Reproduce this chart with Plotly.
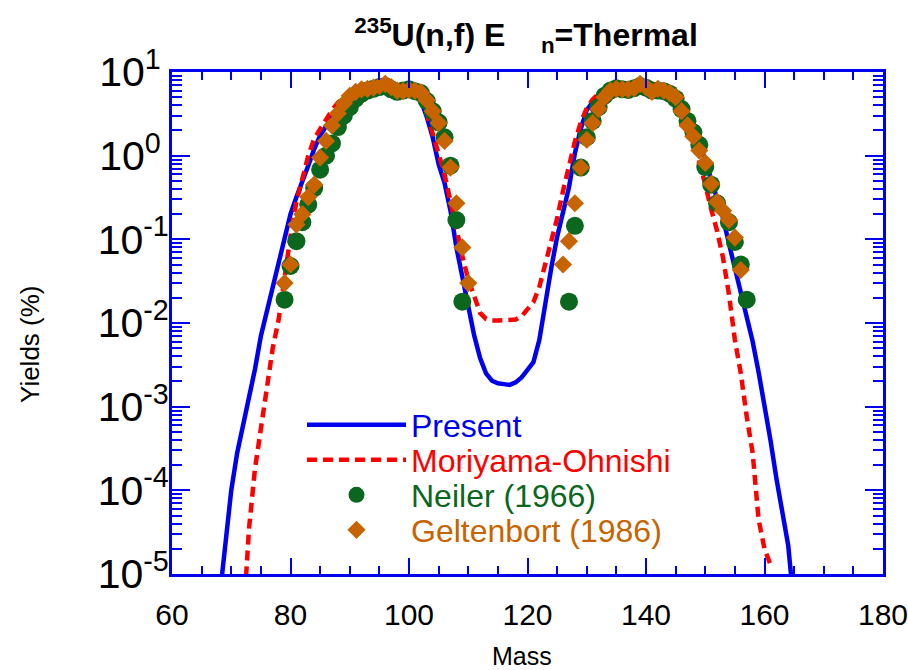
import plotly.graph_objects as go

# ---------------- data ----------------
present_mass = list(range(68, 166))
present_yield = [
    5.0e-6, 2.5e-5, 1.0e-4, 2.8e-4, 6.0e-4, 1.2e-3, 2.8e-3, 7.0e-3, 1.4e-2, 2.6e-2,   # 68-77
    5.0e-2, 0.105, 0.20, 0.32, 0.48, 0.76, 1.2, 1.74, 2.24, 2.9,                       # 78-87
    3.6, 4.5, 5.3, 5.9, 6.3, 6.6, 6.8, 6.9, 6.9, 6.8,                                  # 88-97
    6.5, 6.3, 6.3, 6.0, 4.6, 2.9, 1.66, 0.79, 0.47, 0.22,                              # 98-107
    0.08, 0.035, 0.015, 0.0071, 0.0038, 0.0025, 0.00204, 0.0019, 0.00186, 0.00182,     # 108-117
    0.00195, 0.00224, 0.00275, 0.0034, 0.0063, 0.0178, 0.045, 0.107, 0.21, 0.42,       # 118-127
    1.07, 2.1, 3.5, 4.4, 5.2, 5.9, 6.3, 6.6, 6.8, 6.9,                                 # 128-137
    6.9, 6.9, 6.8, 6.6, 6.3, 6.0, 5.6, 4.9, 4.0, 2.95,                                 # 138-147
    2.1, 1.4, 0.89, 0.54, 0.32, 0.18, 0.089, 0.045, 0.024, 0.012,                      # 148-157
    0.006, 0.0026, 0.00105, 0.0004, 1.4e-4, 5.6e-5, 2.2e-5, 4.0e-6,                    # 158-165
]

moriyama_mass = list(range(72, 162))
moriyama_yield = [
    2.5e-6, 3.5e-5, 1.8e-4, 5.6e-4, 1.9e-3, 5.0e-3, 1.1e-2, 0.035, 0.11, 0.28,         # 72-81
    0.56, 1.0, 1.6, 2.1, 2.8, 3.5, 4.3, 5.0, 5.6, 6.2,                                 # 82-91
    6.5, 6.6, 6.8, 6.8, 6.8, 6.6, 6.5, 6.3, 6.2, 5.8,                                  # 92-101
    4.6, 3.2, 1.9, 1.05, 0.6, 0.3, 0.135, 0.063, 0.033, 0.021,                         # 102-111
    0.0132, 0.0112, 0.0107, 0.0107, 0.0107, 0.0107, 0.011, 0.012, 0.0145, 0.0178,      # 112-121
    0.027, 0.05, 0.089, 0.178, 0.38, 0.79, 1.48, 2.5, 3.7, 4.7,                        # 122-131
    5.5, 6.0, 6.5, 6.6, 6.8, 6.8, 6.8, 6.8, 6.6, 6.5,                                  # 132-141
    6.2, 5.9, 5.4, 4.6, 3.6, 2.6, 1.58, 0.89, 0.45, 0.23,                              # 142-151
    0.126, 0.06, 0.022, 0.0063, 0.0025, 7.6e-4, 2.8e-4, 4.5e-5, 2.0e-5, 1.3e-5,        # 152-161
]

neiler_mass = (list(range(79, 110)) + list(range(127, 153)) + [154, 155, 156, 157])
neiler_yield = [
    0.019, 0.048, 0.095, 0.16, 0.26, 0.41, 0.68, 1.0, 1.4, 2.2,                        # 79-88
    3.0, 3.8, 4.8, 5.5, 6.0, 6.3, 6.6, 6.8, 6.2, 5.8,                                  # 89-98
    6.0, 6.2, 5.9, 5.6, 4.5, 3.4, 2.5, 1.66, 0.76, 0.17, 0.018,                        # 99-109
    0.018, 0.145, 0.72, 1.66, 2.6, 3.8, 5.2, 6.0, 6.4, 6.2,                            # 127-136
    6.1, 6.4, 6.8, 6.5, 6.0, 6.0, 5.9, 5.5, 4.8, 3.6,                                  # 137-146
    2.6, 1.9, 1.35, 0.73, 0.45, 0.27,                                                  # 147-152
    0.16, 0.093, 0.05, 0.019,                                                          # 154-157
]

geltenbort_mass = list(range(79, 111)) + list(range(126, 157))
geltenbort_yield = [
    0.03, 0.05, 0.15, 0.2, 0.32, 0.45, 0.95, 1.5, 2.3, 3.2,                            # 79-88
    4.2, 5.2, 5.8, 6.2, 6.3, 6.5, 6.8, 7.2, 6.6, 6.0,                                  # 89-98
    5.9, 6.1, 6.0, 5.7, 4.6, 3.4, 2.45, 1.5, 0.72, 0.27, 0.08, 0.03,                   # 99-110
    0.05, 0.095, 0.27, 0.72, 1.55, 2.45, 3.6, 5.0, 6.0, 6.3,                           # 126-135
    6.2, 6.2, 6.4, 7.2, 6.6, 5.8, 6.3, 6.0, 5.6, 5.0,                                  # 136-145
    3.4, 2.3, 1.7, 1.15, 0.82, 0.46, 0.28, 0.22, 0.17, 0.105, 0.043,                   # 146-156
]

x_tick_vals = [60, 80, 100, 120, 140, 160, 180]
y_exponents = [-5, -4, -3, -2, -1, 0, 1]

# ---------------- styling ----------------
BLUE = "#0000F0"
RED = "#FF0000"
GREEN = "#0B661E"
ORANGE = "#C86400"
FONT = "Liberation Sans, Arial, sans-serif"

W, H = 908, 670
L_M, T_M = 172, 72
PW, PH = 711, 502
R_M, B_M = W - L_M - PW, H - T_M - PH

fig = go.Figure()
fig.add_trace(go.Scatter(x=present_mass, y=present_yield, mode="lines", name="Present",
                         line=dict(color=BLUE, width=4.5), legend="legend"))
fig.add_trace(go.Scatter(x=moriyama_mass, y=moriyama_yield, mode="lines", name="Moriyama-Ohnishi",
                         line=dict(color=RED, width=4.5, dash="10px,6px"), legend="legend2"))
fig.add_trace(go.Scatter(x=neiler_mass, y=neiler_yield, mode="markers", name="Neiler (1966)",
                         marker=dict(symbol="circle", size=18, color=GREEN, line=dict(width=0)),
                         legend="legend3"))
fig.add_trace(go.Scatter(x=geltenbort_mass, y=geltenbort_yield, mode="markers", name="Geltenbort (1986)",
                         marker=dict(symbol="diamond", size=14, color=ORANGE, line=dict(width=0)),
                         legend="legend4"))

minor_y = [m * 10 ** e for e in range(-5, 1) for m in range(2, 10)]


def y_label(e):
    if e < 0:
        return "10<sup>-%d</sup>" % (-e)
    return "10<sup>%d&nbsp;</sup>" % e


fig.update_xaxes(
    range=[60, 180], tickmode="array", tickvals=x_tick_vals,
    ticks="inside", ticklen=16, tickwidth=2, tickcolor=BLUE,
    showline=True, linewidth=3, linecolor=BLUE, mirror="ticks",
    minor=dict(tickmode="linear", tick0=60, dtick=5, ticks="inside", ticklen=8, tickwidth=2,
               tickcolor=BLUE),
    showgrid=False, zeroline=False, ticklabeloverflow="allow",
    tickfont=dict(family=FONT, size=30, color="black"), ticklabelstandoff=12,
)
fig.update_yaxes(
    type="log", range=[-5, 1], tickmode="array",
    tickvals=[10.0 ** e for e in y_exponents],
    ticktext=[y_label(e) for e in y_exponents],
    ticks="inside", ticklen=18, tickwidth=2, tickcolor=BLUE,
    showline=True, linewidth=3, linecolor=BLUE, mirror="ticks",
    minor=dict(tickmode="array", tickvals=minor_y, ticks="inside", ticklen=10, tickwidth=2,
               tickcolor=BLUE),
    showgrid=False, zeroline=False, ticklabeloverflow="allow",
    tickfont=dict(family=FONT, size=41, color="black"), ticklabelstandoff=-8,
)


def px_x(p):   # window pixel -> paper x
    return (p - L_M) / PW


def px_y(p):   # window pixel -> paper y
    return (H - B_M - p) / PH


def legend_box(ypix, color):
    return dict(x=px_x(302), xanchor="left", y=px_y(ypix), yanchor="middle",
                bgcolor="rgba(0,0,0,0)", borderwidth=0, itemwidth=99,
                font=dict(family=FONT, size=32, color=color))


fig.update_layout(
    width=W, height=H, showlegend=True,
    margin=dict(l=L_M, r=R_M, t=T_M, b=B_M, autoexpand=False),
    paper_bgcolor="white", plot_bgcolor="white",
    font=dict(family=FONT, color="black"),
    title=dict(text="<b><sup>235</sup>U(n,f) E&nbsp;&nbsp;&nbsp;&nbsp;<sub>n</sub>=Thermal</b>",
               x=526 / W, xanchor="center", y=1 - 35 / H, yanchor="middle",
               font=dict(family=FONT, size=32, color="black")),
    legend=legend_box(425, BLUE),
    legend2=legend_box(460, RED),
    legend3=legend_box(495, GREEN),
    legend4=legend_box(530, ORANGE),
    annotations=[
        dict(text="Mass", xref="paper", yref="paper", x=px_x(522), y=px_y(656),
             showarrow=False, font=dict(family=FONT, size=25, color="black"),
             xanchor="center", yanchor="middle"),
        dict(text="Yields (%)", xref="paper", yref="paper", x=px_x(30), y=px_y(344),
             showarrow=False, textangle=-90, font=dict(family=FONT, size=26, color="black"),
             xanchor="center", yanchor="middle"),
    ],
)

fig.write_html(
    "out.html",
    config={"displayModeBar": False},
    post_script="document.body.style.margin='0px';document.body.style.overflow='hidden';",
)
